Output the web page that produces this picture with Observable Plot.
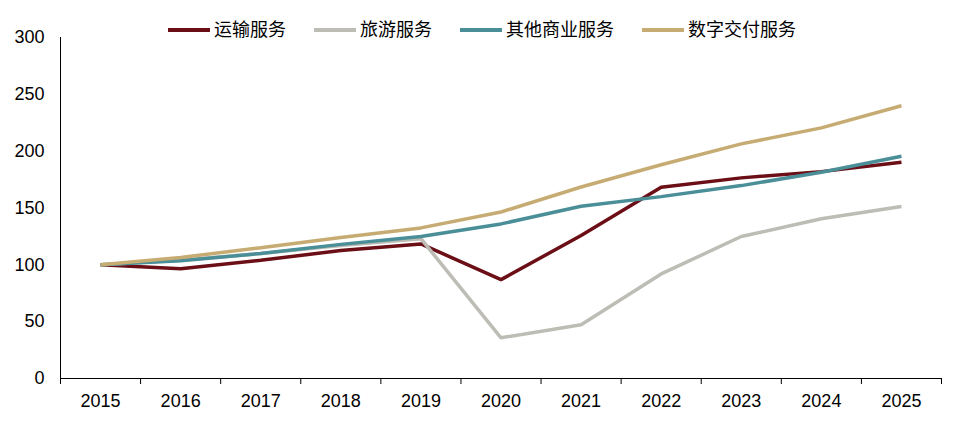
<!DOCTYPE html>
<html>
<head>
<meta charset="utf-8">
<script src="https://cdn.jsdelivr.net/npm/d3@7"></script>
<script src="https://cdn.jsdelivr.net/npm/@observablehq/plot@0.6"></script>
<style>
  body { margin: 0; background: #fff; }
  #chart { position: relative; width: 964px; font-family: "Liberation Sans", Arial, "Noto Sans CJK SC", sans-serif; }
  .legend { position: absolute; top: 19px; left: 0; width: 964px; display: flex; justify-content: center; align-items: center; gap: 28px; font-size: 18px; color: #000; font-family: "Liberation Sans", "Noto Sans CJK SC", sans-serif; z-index: 2; }
  .legend .item { display: flex; align-items: center; gap: 4px; line-height: 22px; }
  .legend .sw { width: 42px; height: 4px; display: inline-block; }
</style>
</head>
<body>
<div id="chart"></div>
<script>
const years = [2015, 2016, 2017, 2018, 2019, 2020, 2021, 2022, 2023, 2024, 2025];
const seriesNames = ["运输服务", "旅游服务", "其他商业服务", "数字交付服务"];
const transport = [100, 96.5, 104, 112.6, 118.4, 87, 125.8, 168.3, 176.5, 182, 190.3];
const travel    = [100, 104, 110, 117, 123, 35.8, 47.2, 92, 124.9, 140.5, 151.3];
const otherBiz  = [100, 103.5, 110, 118, 125, 136, 151.5, 160, 169.7, 181.5, 195.5];
const digital   = [100, 106.5, 115, 124, 132.5, 146.5, 168.5, 188, 206.4, 220.5, 240];
const colors = ["#6B0E16", "#BDBDB5", "#4A8E98", "#C6AB73"];
const yTicks = [0, 50, 100, 150, 200, 250, 300];

const allSeries = [transport, travel, otherBiz, digital];
const rows = [];
allSeries.forEach((vals, si) => {
  vals.forEach((v, i) => rows.push({year: years[i], value: v, series: seriesNames[si]}));
});
const boundaries = years.map(y => y - 0.5).concat([years[years.length - 1] + 0.5]);

const legend = document.createElement("div");
legend.className = "legend";
seriesNames.forEach((n, i) => {
  const it = document.createElement("div");
  it.className = "item";
  const sw = document.createElement("span");
  sw.className = "sw";
  sw.style.background = colors[i];
  const t = document.createElement("span");
  t.textContent = n;
  it.appendChild(sw);
  it.appendChild(t);
  legend.appendChild(it);
});

const plot = Plot.plot({
  width: 964,
  height: 423,
  marginTop: 37,
  marginBottom: 45,
  marginLeft: 60,
  marginRight: 23,
  style: { fontFamily: "Liberation Sans, Arial, sans-serif", fontSize: "18px", color: "#000", background: "#fff" },
  x: { type: "linear", domain: [years[0] - 0.5, years[years.length - 1] + 0.5] },
  y: { domain: [0, 300] },
  color: { domain: seriesNames, range: colors },
  marks: [
    Plot.axisY({ ticks: yTicks, tickSize: 0, tickPadding: 16, label: null, fontSize: 18 }),
    Plot.axisX({ ticks: boundaries, tickSize: 6, tickFormat: () => "", label: null, stroke: "#000" }),
    Plot.axisX({ ticks: years, tickSize: 0, tickPadding: 16, tickFormat: d => String(d), label: null, fontSize: 18 }),
    Plot.ruleY([0], { stroke: "#000", strokeWidth: 1 }),
    Plot.ruleX([years[0] - 0.5], { y1: 0, y2: 300, stroke: "#000", strokeWidth: 1 }),
    Plot.line(rows, { x: "year", y: "value", z: "series", stroke: "series", strokeWidth: 3.5, strokeLinejoin: "miter", strokeLinecap: "butt" })
  ]
});
document.getElementById("chart").appendChild(plot);
document.getElementById("chart").appendChild(legend);
</script>
</body>
</html>
